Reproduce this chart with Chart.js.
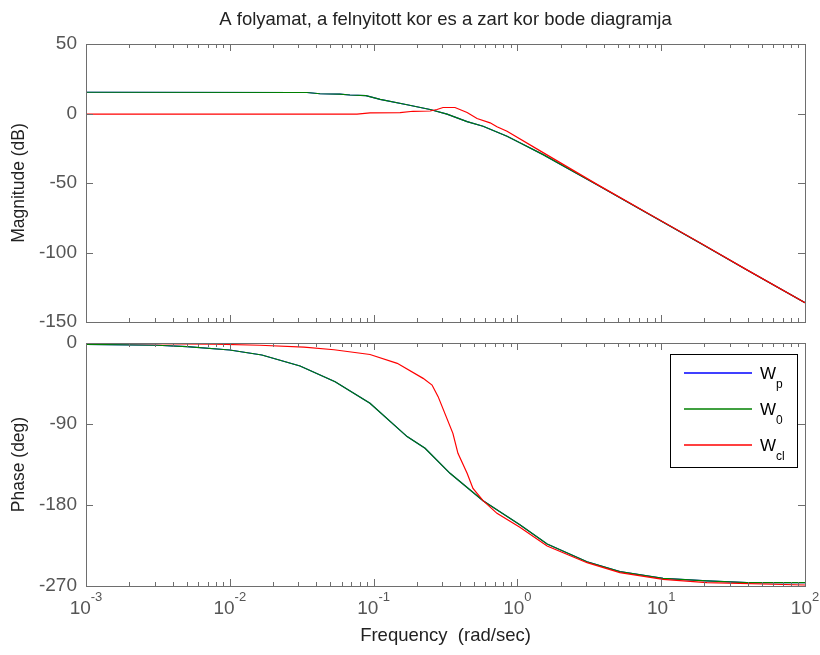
<!DOCTYPE html>
<html>
<head>
<meta charset="utf-8">
<script src="https://cdn.jsdelivr.net/npm/chart.js@4"></script>
<style>
  body { margin: 0; background: #fff; }
  #wrap { position: relative; width: 820px; height: 655px; }
  #magBox { position: absolute; left: 0; top: 0; width: 820px; height: 335px; }
  #phBox { position: absolute; left: 0; top: 335px; width: 820px; height: 320px; }
</style>
</head>
<body>
<div id="wrap">
  <div id="magBox"><canvas id="mag"></canvas></div>
  <div id="phBox"><canvas id="ph"></canvas></div>
</div>
<script>
// values (frequency in rad/sec)
const magFreq = [0.001, 0.0344, 0.0424, 0.0583, 0.0685, 0.0885, 0.111, 0.171, 0.247, 0.324, 0.447, 0.577, 0.847, 1.04, 1.51, 3.58, 8.36, 18.6, 39.5, 100];
const magWp   = [15.3, 15.1, 14.2, 13.9, 13.3, 12.8, 10.2, 6.3, 2.9, -0.5, -5.8, -9.2, -16.4, -21.1, -29.6, -51.2, -72.9, -93.1, -112.6, -136.1];
const magW0   = [15.3, 15.1, 14.2, 13.9, 13.3, 12.8, 10.2, 6.3, 2.9, -0.5, -5.8, -9.2, -16.4, -21.1, -29.6, -51.2, -72.9, -93.1, -112.6, -136.1];
const magClFreq = [0.001, 0.0767, 0.0944, 0.153, 0.188, 0.247, 0.276, 0.304, 0.368, 0.447, 0.524, 0.646, 0.721, 0.847, 1.44, 3.58, 8.36, 18.6, 39.5, 100];
const magWcl    = [-0.5, -0.5, 0.4, 0.6, 1.6, 1.8, 2.9, 4.3, 4.3, 0.7, -3.6, -6.7, -9.5, -12.8, -26.9, -51.0, -72.7, -93.0, -112.5, -136.1];

const phFreq = [0.001, 0.00312, 0.00504, 0.01, 0.0167, 0.0308, 0.054, 0.0944, 0.171, 0.228, 0.340, 0.577, 1.04, 1.61, 3.05, 5.16, 10.3, 20.8, 39.5, 100];
const phWp   = [-1.5, -2.5, -4.1, -7.8, -13.3, -25.6, -43, -67, -104, -117, -144.8, -175.2, -202, -223.3, -243, -254, -261.5, -264.4, -266.3, -266.3];
const phW0   = [-1.5, -2.5, -4.1, -7.8, -13.3, -25.6, -43, -67, -104, -117, -144.8, -175.2, -202, -223.3, -243, -254, -261.5, -264.4, -266.3, -266.3];
const phClFreq = [0.001, 0.00776, 0.0162, 0.0328, 0.0531, 0.0944, 0.146, 0.221, 0.255, 0.281, 0.356, 0.386, 0.447, 0.491, 0.577, 0.721, 1.04, 1.61, 3.05, 5.16, 10.3, 20.8, 100];
const phWcl    = [-0.3, -1.2, -2.5, -4.5, -7.5, -12.8, -22.6, -39.3, -46.7, -59.6, -100.4, -122.6, -144.8, -161.5, -175.2, -189.3, -204.8, -225.6, -244.1, -255.2, -262.6, -266.3, -268.9];

const seriesSubs = ['p', '0', 'cl'];   // W_p, W_0, W_cl
const xTickExps = [-3, -2, -1, 0, 1, 2];
const magTicks = [50, 0, -50, -100, -150];
const phTicks = [0, -90, -180, -270];

const FONT = "'Liberation Sans', Arial, sans-serif";
const colors = ['#0000ff', '#008000', '#ff0000'];

function toPoints(xs, ys) {
  return xs.map((x, i) => ({ x: x, y: ys[i] }));
}

function makeDatasets(sets) {
  // red on top, then green, blue underneath
  return sets.map((d, i) => ({
    label: 'W' + seriesSubs[i],
    data: d,
    borderColor: colors[i],
    backgroundColor: colors[i],
    borderWidth: 1.2,
    pointRadius: 0,
    tension: 0,
    fill: false,
    order: 2 - i
  }));
}

// keep tick labels from pushing the plot area
function fixY(width) {
  return s => { s.width = width; s.paddingTop = 0; s.paddingBottom = 0; };
}

// MATLAB-like box with inward ticks
const boxTicks = {
  id: 'boxTicks',
  afterDraw(chart) {
    const ctx = chart.ctx, a = chart.chartArea;
    const xs = chart.scales.x, ys = chart.scales.y;
    ctx.save();
    ctx.strokeStyle = '#6e6e6e';
    ctx.lineWidth = 1;
    ctx.strokeRect(Math.round(a.left) + 0.5, Math.round(a.top) + 0.5,
      Math.round(a.right - a.left), Math.round(a.bottom - a.top));
    ctx.beginPath();
    for (let e = -3; e <= 2; e++) {
      for (let m = 1; m <= 9; m++) {
        const v = m * Math.pow(10, e);
        if (v > 100) break;
        const px = Math.round(xs.getPixelForValue(v)) + 0.5;
        const len = m === 1 ? 7 : 4;
        ctx.moveTo(px, a.bottom); ctx.lineTo(px, a.bottom - len);
        ctx.moveTo(px, a.top); ctx.lineTo(px, a.top + len);
      }
    }
    ys.ticks.forEach(t => {
      const py = Math.round(ys.getPixelForValue(t.value)) + 0.5;
      ctx.moveTo(a.left, py); ctx.lineTo(a.left + 7, py);
      ctx.moveTo(a.right, py); ctx.lineTo(a.right - 7, py);
    });
    ctx.stroke();
    ctx.restore();
  }
};

// 10^n labels under the phase plot
const decadeLabels = {
  id: 'decadeLabels',
  afterDraw(chart) {
    const ctx = chart.ctx, a = chart.chartArea, xs = chart.scales.x;
    ctx.save();
    ctx.fillStyle = '#555';
    ctx.textBaseline = 'alphabetic';
    xTickExps.forEach(e => {
      const px = xs.getPixelForValue(Math.pow(10, e));
      ctx.font = '19px ' + FONT;
      const w1 = ctx.measureText('10').width;
      ctx.font = '13px ' + FONT;
      const w2 = ctx.measureText(String(e)).width;
      const start = px - (w1 + w2) / 2;
      ctx.font = '19px ' + FONT;
      ctx.fillText('10', start, a.bottom + 28);
      ctx.font = '13px ' + FONT;
      ctx.fillText(String(e), start + w1, a.bottom + 15);
    });
    ctx.restore();
  }
};

// legend box with subscripts
const subLegend = {
  id: 'subLegend',
  afterDraw(chart) {
    const ctx = chart.ctx, a = chart.chartArea;
    const w = 127, h = 113;
    const left = Math.round(a.right - 8 - w), top = Math.round(a.top + 11);
    ctx.save();
    ctx.fillStyle = '#fff';
    ctx.fillRect(left, top, w, h);
    ctx.strokeStyle = '#000';
    ctx.lineWidth = 1;
    ctx.strokeRect(left + 0.5, top + 0.5, w, h);
    seriesSubs.forEach((sub, i) => {
      const y = top + 19 + i * 36;
      ctx.beginPath();
      ctx.strokeStyle = colors[i];
      ctx.lineWidth = 1.6;
      ctx.moveTo(left + 14, y);
      ctx.lineTo(left + 82, y);
      ctx.stroke();
      ctx.fillStyle = '#000';
      ctx.font = '17px ' + FONT;
      ctx.fillText('W', left + 90, y + 6);
      const ww = ctx.measureText('W').width;
      ctx.font = '12px ' + FONT;
      ctx.fillText(sub, left + 90 + ww, y + 15);
    });
    ctx.restore();
  }
};

Chart.defaults.font.family = FONT;
Chart.defaults.animation = false;

new Chart(document.getElementById('mag'), {
  type: 'line',
  data: {
    datasets: makeDatasets([
      toPoints(magFreq, magWp),
      toPoints(magFreq, magW0),
      toPoints(magClFreq, magWcl)
    ])
  },
  options: {
    responsive: true,
    maintainAspectRatio: false,
    layout: { padding: { left: 0, right: 15, top: 0, bottom: 0 } },
    plugins: {
      legend: { display: false },
      tooltip: { enabled: false },
      title: {
        display: true,
        fullSize: false,
        text: 'A folyamat, a felnyitott kor es a zart kor bode diagramja',
        color: '#222',
        font: { size: 18.5, weight: 'normal', lineHeight: 1.2 },
        padding: { top: 9, bottom: 12.8 }
      }
    },
    scales: {
      x: {
        type: 'logarithmic', min: 0.001, max: 100,
        ticks: { display: false },
        grid: { display: false },
        border: { display: false },
        afterFit: s => { s.height = 13; }
      },
      y: {
        min: -150, max: 50,
        afterBuildTicks: s => { s.ticks = magTicks.map(v => ({ value: v })); },
        ticks: { color: '#555', font: { size: 19 }, padding: 9 },
        grid: { display: false, drawTicks: false },
        border: { display: false },
        title: { display: true, text: 'Magnitude (dB)', color: '#222', font: { size: 17.5 }, padding: { top: 9, bottom: 0 } },
        afterFit: fixY(86)
      }
    }
  },
  plugins: [boxTicks]
});

new Chart(document.getElementById('ph'), {
  type: 'line',
  data: {
    datasets: makeDatasets([
      toPoints(phFreq, phWp),
      toPoints(phFreq, phW0),
      toPoints(phClFreq, phWcl)
    ])
  },
  options: {
    responsive: true,
    maintainAspectRatio: false,
    layout: { padding: { left: 0, right: 15, top: 8, bottom: 0 } },
    plugins: {
      legend: { display: false },
      tooltip: { enabled: false }
    },
    scales: {
      x: {
        type: 'logarithmic', min: 0.001, max: 100,
        ticks: { display: false },
        grid: { display: false },
        border: { display: false },
        title: { display: true, text: 'Frequency  (rad/sec)', color: '#222', font: { size: 18.5 }, padding: { top: 0, bottom: 8 } },
        afterFit: s => { s.height = 69; }
      },
      y: {
        min: -270, max: 0,
        afterBuildTicks: s => { s.ticks = phTicks.map(v => ({ value: v })); },
        ticks: { color: '#555', font: { size: 19 }, padding: 9 },
        grid: { display: false, drawTicks: false },
        border: { display: false },
        title: { display: true, text: 'Phase (deg)', color: '#222', font: { size: 17.5 }, padding: { top: 9, bottom: 0 } },
        afterFit: fixY(86)
      }
    }
  },
  plugins: [boxTicks, decadeLabels, subLegend]
});
</script>
</body>
</html>
